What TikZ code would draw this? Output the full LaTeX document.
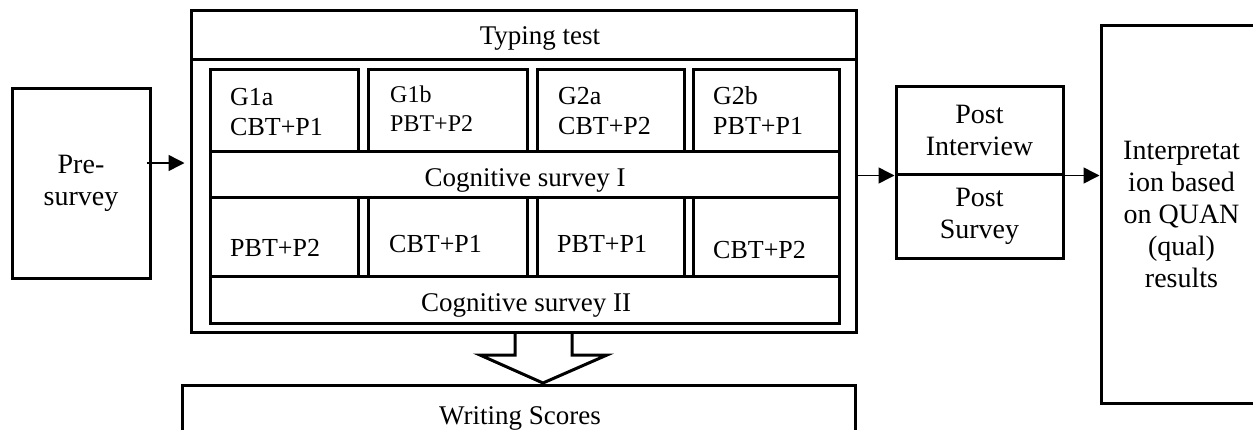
\documentclass[tikz,border=0pt]{standalone}
\usepackage{fontspec}
\setmainfont{Liberation Serif}
\usetikzlibrary{arrows.meta,calc}

\tikzset{
  box/.style={draw,line width=3pt,inner sep=0pt},
  txt/.style={align=center,inner sep=0pt,font=\fontsize{27}{31}\selectfont},
  big/.style={align=center,inner sep=0pt,font=\fontsize{28}{32}\selectfont},
  lbl/.style={align=left,inner sep=0pt,anchor=west,font=\fontsize{26}{30}\selectfont},
  conn/.style={line width=1.5pt,-{Triangle[length=16pt,width=16pt]}}
}

\begin{document}
\begin{tikzpicture}[x=1pt,y=-1pt]
	\useasboundingbox (0,0) rectangle (1253,429);
	%PRE SURVEY
	\node[box,big,minimum width=138pt,minimum height=190pt] (pre) at (81,183) {Pre-\\survey};
	%TYPING TEST FRAME
	\node[box,minimum width=665pt,minimum height=49pt] (typing) at (523.5,34.5) {};
	\node[txt] (typinglbl) at (540,38) {Typing test};
	\node[box,minimum width=665pt,minimum height=273pt] (outer) at (523.5,195.5) {};
	%GROUPS, FIRST ROUND
	\node[box,minimum width=148pt,minimum height=82pt] (g1a) at (284,110) {};
	\node[box,minimum width=159pt,minimum height=82pt] (g1b) at (447.5,110) {};
	\node[box,minimum width=147pt,minimum height=82pt] (g2a) at (610.5,110) {};
	\node[box,minimum width=146pt,minimum height=82pt] (g2b) at (766,110) {};
	\node[lbl] (g1alb) at (230,112) {G1a\\CBT+P1};
	\node[lbl,font=\fontsize{24}{29}\selectfont] (g1blb) at (390,109) {G1b\\PBT+P2};
	\node[lbl] (g2alb) at (558,111) {G2a\\CBT+P2};
	\node[lbl] (g2blb) at (713,111) {G2b\\PBT+P1};
	\node[box,minimum width=629pt,minimum height=46pt] (cog1) at (524.5,174) {};
	\node[txt] (cog1lb) at (525,180) {Cognitive survey I};
	%GROUPS, SECOND ROUND
	\node[box,minimum width=148pt,minimum height=79pt] (h1a) at (284,236.5) {};
	\node[box,minimum width=159pt,minimum height=79pt] (h1b) at (447.5,236.5) {};
	\node[box,minimum width=147pt,minimum height=79pt] (h2a) at (610.5,236.5) {};
	\node[box,minimum width=146pt,minimum height=79pt] (h2b) at (766,236.5) {};
	\node[lbl] (h1alb) at (230,248) {PBT+P2};
	\node[lbl] (h1blb) at (389,244) {CBT+P1};
	\node[lbl] (h2alb) at (557,244) {PBT+P1};
	\node[lbl] (h2blb) at (713,250) {CBT+P2};
	\node[box,minimum width=629pt,minimum height=47pt] (cog2) at (524.5,299.5) {};
	\node[txt] (cog2lb) at (526,305) {Cognitive survey II};
	%WRITING SCORES
	\node[box,minimum width=673pt,minimum height=85pt] (writing) at (518.5,427.5) {};
	\node[txt] (writinglb) at (520,418) {Writing Scores};
	\draw[line width=3pt,line join=miter] (515,332) -- (515,355) -- (480,355) -- (543,383)
		-- (607,355) -- (572,355) -- (572,332);
	%POST
	\node[box,big,minimum width=167pt,minimum height=88pt] (postint) at (979.5,130) {Post\\Interview};
	\node[box,big,minimum width=167pt,minimum height=84pt] (postsur) at (979.5,216) {Post\\Survey};
	\node[box,big,minimum width=161pt,minimum height=378pt] (interp) at (1181.5,214)
		{Interpretat\\ion based\\on QUAN\\(qual)\\results};
	%ARROWS
	\coordinate (a1) at ([xshift=-5pt,yshift=20pt]pre.east);
	\draw[conn,shorten >=5pt] (a1) -- (a1 -| outer.west);
	\draw[conn] (outer.east |- postint.south) -- (postint.south west);
	\draw[conn] (postint.south east) -- (interp.west |- postint.south);
\end{tikzpicture}
\end{document}
